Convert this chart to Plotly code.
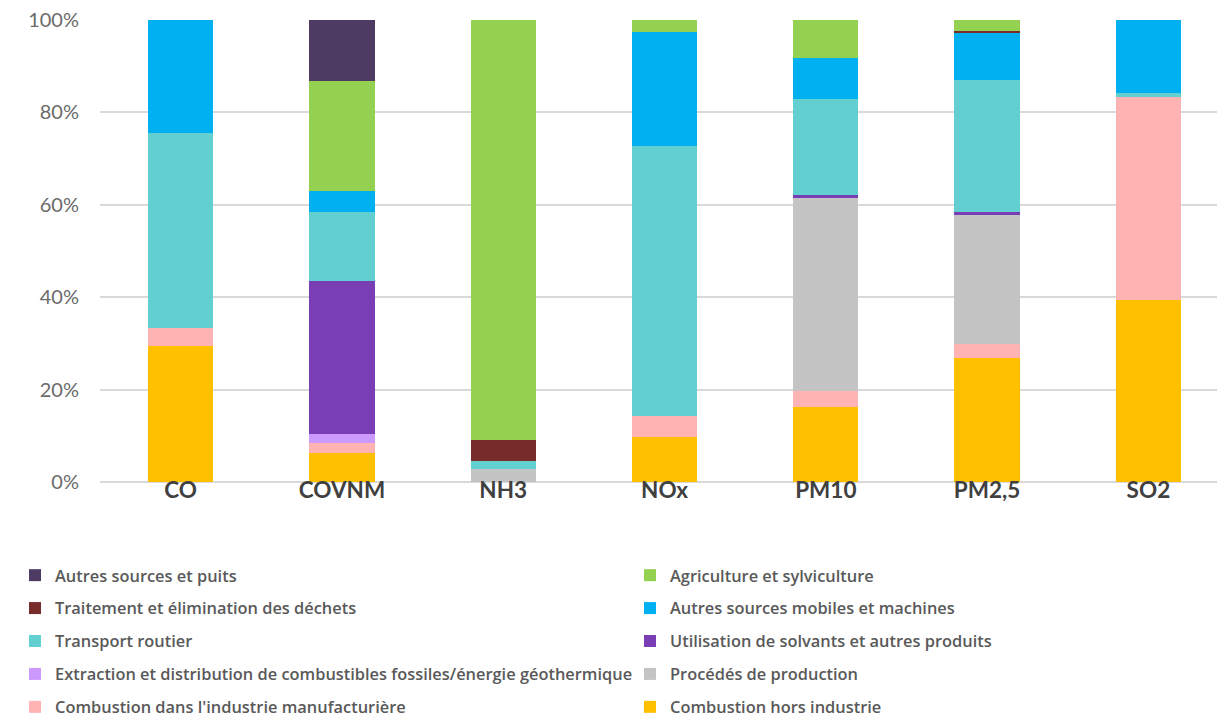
import plotly.graph_objects as go

# polluants (axe x)
polluants = ['CO', 'COVNM', 'NH3', 'NOx', 'PM10', 'PM2,5', 'SO2']

# parts par secteur, en %, ordre d'empilement du bas vers le haut
combustion_hors_industrie = [29.5, 6.3, 0.0, 9.7, 16.2, 26.9, 39.5]
combustion_industrie = [3.9, 2.1, 0.0, 4.5, 3.5, 2.9, 43.9]
procedes_production = [0.0, 0.0, 2.9, 0.0, 41.8, 28.0, 0.0]
extraction_distribution = [0.0, 1.9, 0.0, 0.0, 0.0, 0.0, 0.0]
utilisation_solvants = [0.0, 33.2, 0.0, 0.0, 0.7, 0.7, 0.0]
transport_routier = [42.1, 15.0, 1.6, 58.5, 20.7, 28.5, 0.9]
autres_mobiles = [24.5, 4.5, 0.0, 24.6, 8.9, 10.4, 15.7]
traitement_dechets = [0.0, 0.0, 4.5, 0.0, 0.0, 0.3, 0.0]
agriculture = [0.0, 23.8, 91.0, 2.7, 8.2, 2.3, 0.0]
autres_puits = [0.0, 13.2, 0.0, 0.0, 0.0, 0.0, 0.0]

secteurs = [
    ('Combustion hors industrie', combustion_hors_industrie, '#FFC000', 'legend2'),
    ("Combustion dans l'industrie manufacturière", combustion_industrie, '#FFB3B3', 'legend'),
    ('Procédés de production', procedes_production, '#C4C4C4', 'legend2'),
    ('Extraction et distribution de combustibles fossiles/énergie géothermique',
     extraction_distribution, '#CC99FF', 'legend'),
    ('Utilisation de solvants et autres produits', utilisation_solvants, '#7A3EB4', 'legend2'),
    ('Transport routier', transport_routier, '#62CFD1', 'legend'),
    ('Autres sources mobiles et machines', autres_mobiles, '#00B0F0', 'legend2'),
    ('Traitement et élimination des déchets', traitement_dechets, '#772B2A', 'legend'),
    ('Agriculture et sylviculture', agriculture, '#94D150', 'legend2'),
    ('Autres sources et puits', autres_puits, '#4E3B63', 'legend'),
]

fig = go.Figure()
for i, (nom, valeurs, couleur, leg) in enumerate(secteurs):
    fig.add_trace(go.Bar(
        name=nom, x=polluants, y=[v / 100 for v in valeurs],
        marker=dict(color=couleur, line=dict(width=0)),
        legend=leg, legendgroup=nom, legendrank=100 - i,
    ))

# la page html ajoute 8 px de marge autour de la figure
W, H = 1217, 710
police = 'Lato'
legende = dict(
    orientation='v', traceorder='grouped', tracegroupgap=8.6,
    xref='container', yref='container', xanchor='left', yanchor='top',
    font=dict(family='Open Sans', size=16.4, color='#595959', weight=600),
    bgcolor='rgba(0,0,0,0)',
)

fig.update_layout(
    width=W, height=H,
    barmode='stack', bargap=0.595,
    paper_bgcolor='white', plot_bgcolor='white',
    margin=dict(l=92, r=0, t=12, b=236, autoexpand=False),
    font=dict(family=police, color='#595959'),
    legend=dict(legende, x=7 / W, y=1 - 550 / H),
    legend2=dict(legende, x=622 / W, y=1 - 550 / H),
    showlegend=True,
)
fig.update_xaxes(
    range=[-0.5, 6.475], showgrid=False, showline=False,
    tickfont=dict(family=police, size=22.5, color='#404040', weight='bold'),
    ticks='', ticklabelstandoff=-8, tickangle=0,
)
fig.update_yaxes(
    range=[0, 1], dtick=0.2, tickformat='.0%',
    showgrid=True, gridcolor='#D9D9D9', gridwidth=1.5,
    zeroline=True, zerolinecolor='#D9D9D9', zerolinewidth=1.5,
    tickfont=dict(family=police, size=20, color='#6B6B6B'),
    ticklabelstandoff=20, ticklabeloverflow='allow',
)

fig.write_html("out.html")
